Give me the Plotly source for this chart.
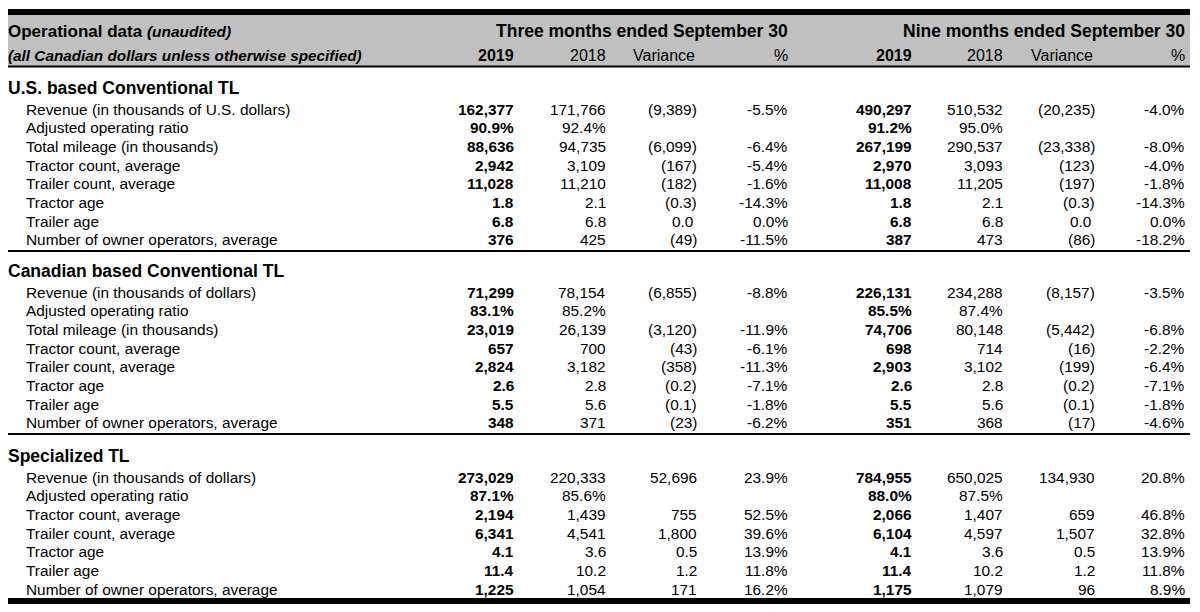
import plotly.graph_objects as go

# ---------------- data ----------------
section_titles = ["U.S. based Conventional TL", "Canadian based Conventional TL", "Specialized TL"]

us_labels = ["Revenue (in thousands of U.S. dollars)", "Adjusted operating ratio", "Total mileage (in thousands)",
             "Tractor count, average", "Trailer count, average", "Tractor age", "Trailer age",
             "Number of owner operators, average"]
us_q_2019 = ["162,377", "90.9%", "88,636", "2,942", "11,028", "1.8", "6.8", "376"]
us_q_2018 = ["171,766", "92.4%", "94,735", "3,109", "11,210", "2.1", "6.8", "425"]
us_q_var = ["(9,389)", "", "(6,099)", "(167)", "(182)", "(0.3)", "0.0", "(49)"]
us_q_pct = ["-5.5%", "", "-6.4%", "-5.4%", "-1.6%", "-14.3%", "0.0%", "-11.5%"]
us_n_2019 = ["490,297", "91.2%", "267,199", "2,970", "11,008", "1.8", "6.8", "387"]
us_n_2018 = ["510,532", "95.0%", "290,537", "3,093", "11,205", "2.1", "6.8", "473"]
us_n_var = ["(20,235)", "", "(23,338)", "(123)", "(197)", "(0.3)", "0.0", "(86)"]
us_n_pct = ["-4.0%", "", "-8.0%", "-4.0%", "-1.8%", "-14.3%", "0.0%", "-18.2%"]

ca_labels = ["Revenue (in thousands of dollars)", "Adjusted operating ratio", "Total mileage (in thousands)",
             "Tractor count, average", "Trailer count, average", "Tractor age", "Trailer age",
             "Number of owner operators, average"]
ca_q_2019 = ["71,299", "83.1%", "23,019", "657", "2,824", "2.6", "5.5", "348"]
ca_q_2018 = ["78,154", "85.2%", "26,139", "700", "3,182", "2.8", "5.6", "371"]
ca_q_var = ["(6,855)", "", "(3,120)", "(43)", "(358)", "(0.2)", "(0.1)", "(23)"]
ca_q_pct = ["-8.8%", "", "-11.9%", "-6.1%", "-11.3%", "-7.1%", "-1.8%", "-6.2%"]
ca_n_2019 = ["226,131", "85.5%", "74,706", "698", "2,903", "2.6", "5.5", "351"]
ca_n_2018 = ["234,288", "87.4%", "80,148", "714", "3,102", "2.8", "5.6", "368"]
ca_n_var = ["(8,157)", "", "(5,442)", "(16)", "(199)", "(0.2)", "(0.1)", "(17)"]
ca_n_pct = ["-3.5%", "", "-6.8%", "-2.2%", "-6.4%", "-7.1%", "-1.8%", "-4.6%"]

sp_labels = ["Revenue (in thousands of dollars)", "Adjusted operating ratio", "Tractor count, average",
             "Trailer count, average", "Tractor age", "Trailer age", "Number of owner operators, average"]
sp_q_2019 = ["273,029", "87.1%", "2,194", "6,341", "4.1", "11.4", "1,225"]
sp_q_2018 = ["220,333", "85.6%", "1,439", "4,541", "3.6", "10.2", "1,054"]
sp_q_var = ["52,696", "", "755", "1,800", "0.5", "1.2", "171"]
sp_q_pct = ["23.9%", "", "52.5%", "39.6%", "13.9%", "11.8%", "16.2%"]
sp_n_2019 = ["784,955", "88.0%", "2,066", "6,104", "4.1", "11.4", "1,175"]
sp_n_2018 = ["650,025", "87.5%", "1,407", "4,597", "3.6", "10.2", "1,079"]
sp_n_var = ["134,930", "", "659", "1,507", "0.5", "1.2", "96"]
sp_n_pct = ["20.8%", "", "46.8%", "32.8%", "13.9%", "11.8%", "8.9%"]

period_titles = ["Three months ended September 30", "Nine months ended September 30"]
column_headers = ["2019", "2018", "Variance", "%"]

sections = [
    (us_labels, [us_q_2019, us_q_2018, us_q_var, us_q_pct, us_n_2019, us_n_2018, us_n_var, us_n_pct]),
    (ca_labels, [ca_q_2019, ca_q_2018, ca_q_var, ca_q_pct, ca_n_2019, ca_n_2018, ca_n_var, ca_n_pct]),
    (sp_labels, [sp_q_2019, sp_q_2018, sp_q_var, sp_q_pct, sp_n_2019, sp_n_2018, sp_n_var, sp_n_pct]),
]

# ---------------- layout constants ----------------
FONT = "Liberation Sans, Arial, sans-serif"
W, H = 1200, 612
OFF = 8  # page body margin compensation
LEFT, RIGHT = 8, 1190
col_right = [514, 606, 697, 788, 912, 1003, 1095, 1185]
bold_cols = {0, 4}
title_y = [88, 271, 456]
first_row_off = 21
row_step = 18.7
sep_lines = [251, 434]
BODY = 15.4
PAD = 2  # annotation inner padding compensation

annotations = []


def txt(x, y, s, size=BODY, anchor="right", bold=False):
    if bold:
        s = "<b>" + s + "</b>"
    annotations.append(dict(x=x, y=y, xref="x", yref="y", text=s, showarrow=False,
                            xanchor=anchor, yanchor="middle",
                            xshift=(PAD if anchor == "right" else -PAD),
                            font=dict(family=FONT, size=size, color="black")))


# header
txt(LEFT, 31, "<b>Operational data</b> <span style='font-size:15.5px'><b><i>(unaudited)</i></b></span>",
    size=17, anchor="left")
txt(LEFT, 55, "<b><i>(all Canadian dollars unless otherwise specified)</i></b>", size=15.3, anchor="left")
txt(col_right[3], 31, period_titles[0], size=17.5, bold=True)
txt(col_right[7], 31, period_titles[1], size=17.5, bold=True)
for p in range(2):
    for c, h in enumerate(column_headers):
        ci = p * 4 + c
        xr = col_right[ci] - (2 if c == 2 else 0)
        txt(xr, 55, h, size=16, bold=(c == 0))

# body
for si, (labels, cols) in enumerate(sections):
    txt(LEFT, title_y[si], section_titles[si], size=17.5, anchor="left", bold=True)
    for ri, lab in enumerate(labels):
        y = title_y[si] + first_row_off + ri * row_step
        txt(26, y, lab, anchor="left")
        for ci, col in enumerate(cols):
            v = col[ri]
            if not v:
                continue
            xr = col_right[ci]
            if ci in (2, 6) and not v.endswith(")") and v.replace(".", "").strip("0") == "":
                xr -= 4
            txt(xr, y, v, bold=(ci in bold_cols))

shapes = [
    dict(type="rect", xref="x", yref="y", x0=LEFT, x1=RIGHT, y0=15, y1=66, fillcolor="#C0C0C0", line_width=0,
         layer="below"),
    dict(type="rect", xref="x", yref="y", x0=LEFT, x1=RIGHT, y0=9, y1=15, fillcolor="black", line_width=0),
    dict(type="rect", xref="x", yref="y", x0=LEFT, x1=RIGHT, y0=65.5, y1=67.5, fillcolor="black", line_width=0),
    dict(type="rect", xref="x", yref="y", x0=LEFT, x1=RIGHT, y0=598, y1=604, fillcolor="black", line_width=0),
]
for ly in sep_lines:
    shapes.append(dict(type="rect", xref="x", yref="y", x0=LEFT, x1=RIGHT, y0=ly - 1, y1=ly + 1,
                       fillcolor="black", line_width=0))

fig = go.Figure()
fig.add_trace(go.Scatter(x=[OFF, W], y=[OFF, H], mode="markers", marker=dict(opacity=0), hoverinfo="skip",
                         showlegend=False))
fig.update_layout(
    width=W, height=H, margin=dict(l=0, r=0, t=0, b=0),
    paper_bgcolor="white", plot_bgcolor="white",
    xaxis=dict(range=[OFF, W + OFF], visible=False, fixedrange=True),
    yaxis=dict(range=[H + OFF, OFF], visible=False, fixedrange=True),
    annotations=annotations, shapes=shapes, showlegend=False,
)
fig.write_html("out.html")
